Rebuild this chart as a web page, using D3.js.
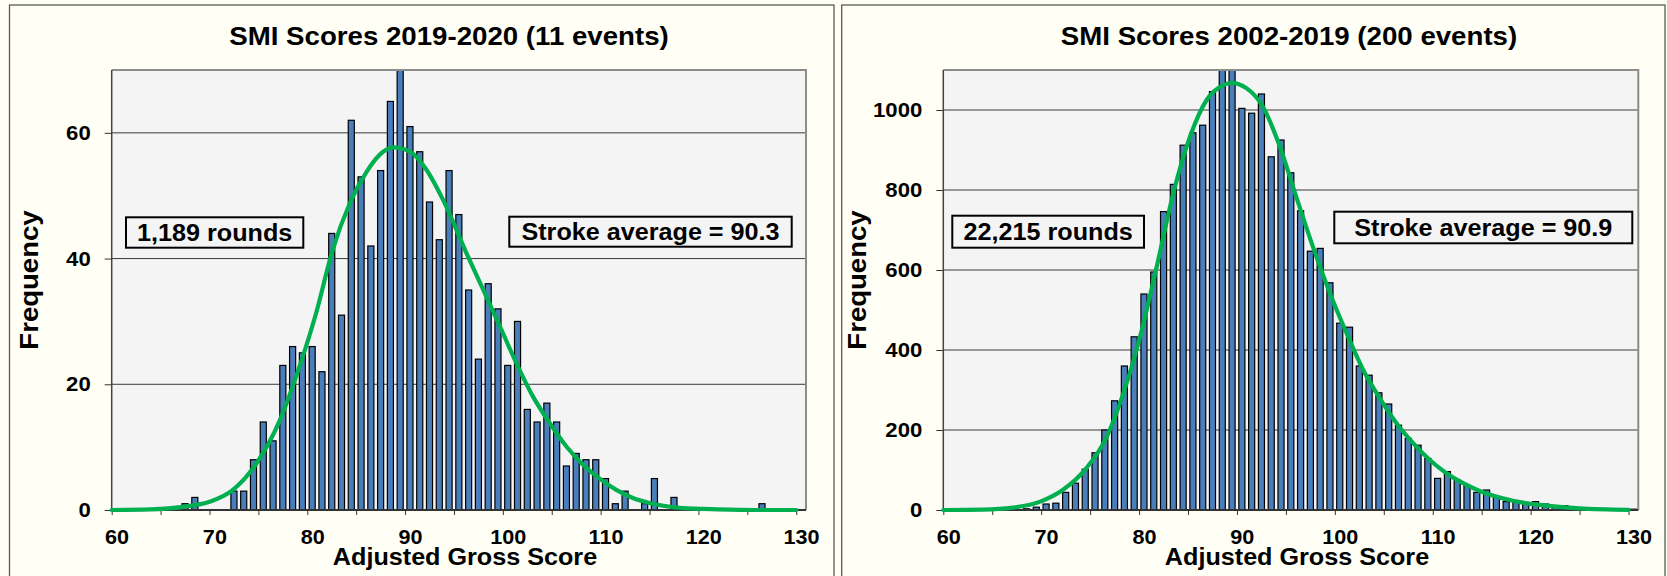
<!DOCTYPE html>
<html>
<head>
<meta charset="utf-8">
<script src="https://cdn.jsdelivr.net/npm/d3@7"></script>
<style>
  body { margin: 0; background: #fffff5; }
  svg { display: block; }
  text { font-family: "Liberation Sans", Arial, sans-serif; font-weight: bold; fill: #000; }
</style>
</head>
<body>
<div id="svg-container"></div>
<script>
// one bar per adjusted gross score
const scores = [60, 61, 62, 63, 64, 65, 66, 67, 68, 69, 70, 71, 72, 73, 74, 75, 76, 77, 78, 79,
    80, 81, 82, 83, 84, 85, 86, 87, 88, 89, 90, 91, 92, 93, 94, 95, 96, 97, 98, 99,
    100, 101, 102, 103, 104, 105, 106, 107, 108, 109, 110, 111, 112, 113, 114, 115, 116, 117, 118, 119,
    120, 121, 122, 123, 124, 125, 126, 127, 128, 129, 130]

// 2019-2020 (11 events)
const countsRecent = [0, 0, 0, 0, 0, 0, 0, 1, 2, 0, 0, 0, 3, 3, 8, 14, 11, 23, 26, 25,
    26, 22, 44, 31, 62, 53, 42, 54, 65, 72, 61, 57, 49, 43, 54, 47, 35, 24, 36, 32,
    23, 30, 16, 14, 17, 14, 7, 9, 8, 8, 5, 1, 3, 0, 1, 5, 0, 2, 0, 0,
    0, 0, 0, 0, 0, 0, 1, 0, 0, 0, 0]

// 2002-2019 (200 events)
const countsAll = [0, 0, 0, 0, 0, 0, 0, 1, 3, 7, 15, 17, 44, 67, 102, 143, 200, 273, 360, 433,
    540, 595, 746, 814, 912, 943, 962, 1046, 1118, 1134, 1004, 992, 1040, 883, 925, 843, 748, 647, 654, 568,
    467, 457, 360, 337, 293, 265, 212, 179, 162, 129, 79, 96, 75, 62, 44, 50, 33, 21, 19, 17,
    21, 15, 10, 11, 6, 5, 4, 2, 2, 1, 2]

// fitted curves (green)
const curveRecentX = [60, 64, 67.3, 70, 72.4, 74.8, 77.2, 79.2, 80.9, 82.6, 84.35, 86.06, 87.75, 88.8, 90.5, 92.2,
    93.9, 96.3, 98, 99.7, 101.4, 103.1, 104.8, 106.5, 108.2, 109.9, 111.6, 113.3, 115, 118.4, 122, 126, 130]
const curveRecentY = [0, 0.1, 0.5, 1.3, 3.2, 7.4, 14.3, 22.8, 31.3, 41.4, 48.8, 53.8, 57, 57.7, 57, 54.1,
    49.3, 40.8, 35, 29.2, 23.3, 18, 13.8, 10.1, 7.2, 5, 3.2, 1.9, 1.1, 0.3, 0.1, 0, 0]

const curveAllX = [60, 64, 67.1, 69.9, 72.2, 74.6, 76.7, 78.4, 80.1, 81.8, 83.5, 85.2, 86.9, 88.6, 89.4, 91,
    92.65, 94.36, 96.06, 97.76, 99.5, 101.2, 102.9, 104.6, 106.3, 108, 109.7, 111.4, 113.1, 114.8, 118.2, 121.6, 125, 130]
const curveAllY = [0, 1, 6, 21, 50, 104, 183, 292, 433, 608, 792, 933, 1025, 1062, 1068, 1054,
    1008, 910, 783, 658, 542, 442, 350, 279, 217, 167, 125, 92, 67, 47.5, 23, 11, 4, 0.5]

// axis ticks
const xTicks = [60, 65, 70, 75, 80, 85, 90, 95, 100, 105, 110, 115, 120, 125, 130]
const xTickLabels = [60, 70, 80, 90, 100, 110, 120, 130]
const yTicksRecent = [0, 20, 40, 60]
const yTicksAll = [0, 200, 400, 600, 800, 1000]

// texts
const titles = ['SMI Scores 2019-2020 (11 events)', 'SMI Scores 2002-2019 (200 events)']
const roundsLabels = ['1,189 rounds', '22,215 rounds']
const averageLabels = ['Stroke average = 90.3', 'Stroke average = 90.9']

const svg = d3.select('#svg-container')
    .append('svg').attr('width', 1667).attr('height', 576)

//teken een paneel met histogram + curve
function drawPanel(p) {
    const g = svg.append('g')

    // panel frame (bottom runs off the picture)
    g.append('rect')
        .attr('x', p.left).attr('y', 5)
        .attr('width', p.right - p.left).attr('height', 640)
        .attr('fill', '#fffff5').attr('stroke', '#5a5a5a').attr('stroke-width', 1.3)

    const step = (p.x1 - p.x0) / p.scores.length
    const xBand = d3.scaleBand()
        .domain(p.scores)
        .range([p.x0, p.x1])
        .paddingInner(0.38).paddingOuter(0.19)
    const xLin = d3.scaleLinear()
        .domain([60, 130])
        .range([p.x0, p.x1 - step])
    const yScale = d3.scaleLinear()
        .domain([0, p.yMax])
        .range([p.y1, p.y0])

    // plot area
    g.append('rect')
        .attr('x', p.x0).attr('y', p.y0)
        .attr('width', p.x1 - p.x0).attr('height', p.y1 - p.y0)
        .attr('fill', '#f4f4f4')

    // gridlines
    g.selectAll('.grid')
        .data(p.yTicks.filter(d => d > 0))
        .enter().append('line')
        .attr('x1', p.x0).attr('x2', p.x1)
        .attr('y1', d => yScale(d)).attr('y2', d => yScale(d))
        .attr('stroke', '#3a3a3a').attr('stroke-width', 1)

    const clipId = 'clip-' + p.id
    g.append('clipPath').attr('id', clipId)
        .append('rect')
        .attr('x', p.x0).attr('y', p.y0)
        .attr('width', p.x1 - p.x0).attr('height', p.y1 - p.y0)

    // bars
    g.append('g').attr('clip-path', `url(#${clipId})`)
        .selectAll('rect')
        .data(p.scores.map((s, i) => ({ score: s, count: p.counts[i] })).filter(d => d.count > 0))
        .enter().append('rect')
        .attr('x', d => xBand(d.score))
        .attr('y', d => yScale(d.count))
        .attr('width', xBand.bandwidth())
        .attr('height', d => p.y1 - yScale(d.count))
        .attr('fill', '#4a7ebb')
        .attr('stroke', '#000').attr('stroke-width', 1.2)

    // plot border: top + right grey, left + bottom dark
    g.append('path')
        .attr('d', `M${p.x0},${p.y0}H${p.x1}V${p.y1}`)
        .attr('fill', 'none').attr('stroke', '#8c8c8c').attr('stroke-width', 2)
    g.append('line')
        .attr('x1', p.x0).attr('x2', p.x0).attr('y1', p.y0).attr('y2', p.y1)
        .attr('stroke', '#444').attr('stroke-width', 1.5)

    // y axis
    const yAxisG = g.append('g')
        .attr('transform', `translate(${p.x0},0)`)
        .call(d3.axisLeft(yScale).tickValues(p.yTicks).tickSize(7).tickPadding(14)
            .tickFormat(d3.format('d')))
    yAxisG.selectAll('.domain').remove()
    yAxisG.selectAll('.tick line').attr('stroke', '#333')
    yAxisG.selectAll('text').attr('font-size', 20.5).attr('font-family', null)

    // x axis: ticks every 5, labels every 10
    const xAxisG = g.append('g')
        .attr('transform', `translate(0,${p.y1})`)
        .call(d3.axisBottom(xLin).tickValues(xTicks).tickSize(5).tickPadding(15)
            .tickFormat(d => xTickLabels.includes(d) ? d : ''))
    xAxisG.selectAll('.domain').remove()
    xAxisG.selectAll('.tick line').attr('stroke', '#333')
    xAxisG.selectAll('text').filter(d => !xTickLabels.includes(d)).remove()
    xAxisG.selectAll('text').attr('font-size', 20).attr('font-family', null).attr('dx', step / 2)
    g.append('line')
        .attr('x1', p.x0).attr('x2', p.x1).attr('y1', p.y1).attr('y2', p.y1)
        .attr('stroke', '#333').attr('stroke-width', 2)

    // fitted curve
    const line = d3.line()
        .x(d => xLin(d[0]))
        .y(d => yScale(d[1]))
        .curve(d3.curveMonotoneX)
    g.append('path')
        .datum(p.curveX.map((x, i) => [x, p.curveY[i]]))
        .attr('d', line)
        .attr('fill', 'none')
        .attr('stroke', '#00b050').attr('stroke-width', 4.2)
        .attr('stroke-linecap', 'round').attr('stroke-linejoin', 'round')

    // label boxes
    p.boxes.forEach(b => {
        g.append('rect')
            .attr('x', b.x).attr('y', b.y).attr('width', b.w).attr('height', b.h)
            .attr('fill', '#f4f4f4').attr('stroke', '#000').attr('stroke-width', 2)
        g.append('text')
            .attr('x', b.x + b.w / 2).attr('y', b.y + b.h / 2 + 8.3)
            .attr('text-anchor', 'middle').attr('font-size', 23.3)
            .text(b.text)
    })

    // titles
    g.append('text')
        .attr('x', p.titleX).attr('y', 45)
        .attr('text-anchor', 'middle').attr('font-size', 25.6)
        .text(p.title)
    g.append('text')
        .attr('x', p.xTitleX).attr('y', 565)
        .attr('text-anchor', 'middle').attr('font-size', 23.3)
        .text('Adjusted Gross Score')
    g.append('text')
        .attr('transform', `translate(${p.freqX},${p.freqY}) rotate(-90)`)
        .attr('text-anchor', 'middle').attr('font-size', 25.5)
        .text('Frequency')
}

drawPanel({
    id: 'recent', left: 9.5, right: 834,
    x0: 111.7, x1: 806, y0: 70, y1: 510, yMax: 70,
    scores: scores, counts: countsRecent, curveX: curveRecentX, curveY: curveRecentY,
    yTicks: yTicksRecent, title: titles[0],
    titleX: 449, xTitleX: 465, freqX: 37.5, freqY: 280,
    boxes: [
        { x: 126, y: 217.3, w: 177.3, h: 30.4, text: roundsLabels[0] },
        { x: 509.3, y: 216.7, w: 282.4, h: 30, text: averageLabels[0] }
    ]
})

drawPanel({
    id: 'all', left: 841.7, right: 1665,
    x0: 943.3, x1: 1638.3, y0: 70, y1: 510, yMax: 1100,
    scores: scores, counts: countsAll, curveX: curveAllX, curveY: curveAllY,
    yTicks: yTicksAll, title: titles[1],
    titleX: 1289, xTitleX: 1297, freqX: 866, freqY: 280,
    boxes: [
        { x: 952.3, y: 215.7, w: 191.7, h: 32, text: roundsLabels[1] },
        { x: 1334.3, y: 211.7, w: 298, h: 31.6, text: averageLabels[1] }
    ]
})

// het origineel is iets breder uitgerekt: tekst horizontaal 8% oprekken
svg.selectAll('text').each(function () {
    const len = this.getComputedTextLength()
    if (len > 0) {
        d3.select(this).attr('textLength', len * 1.08).attr('lengthAdjust', 'spacingAndGlyphs')
    }
})
</script>
</body>
</html>
